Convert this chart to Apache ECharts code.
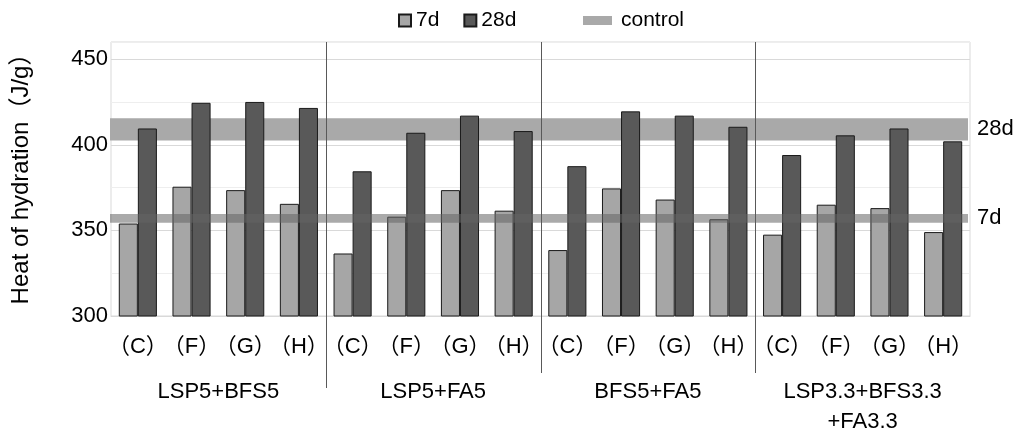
<!DOCTYPE html>
<html>
<head>
<meta charset="utf-8">
<script src="https://cdn.jsdelivr.net/npm/echarts@6/dist/echarts.min.js"></script>
<style>
html,body{margin:0;padding:0;background:#fff;}
#chart{width:1018px;height:433px;}
</style>
</head>
<body>
<div id="chart"></div>
<script>
// ---- data ----
const categories = ['（C）','（F）','（G）','（H）','（C）','（F）','（G）','（H）','（C）','（F）','（G）','（H）','（C）','（F）','（G）','（H）'];
const groups = ['LSP5+BFS5','LSP5+FA5','BFS5+FA5','LSP3.3+BFS3.3\n+FA3.3'];
const values7d = [354, 375.5, 373.5, 365.5, 336.5, 358, 373.5, 361.5, 338.5, 374.5, 368, 356.5, 347.5, 365, 363, 349];
const values28d = [409.5, 424.5, 425, 421.5, 384.5, 407, 417, 408, 387.5, 419.5, 417, 410.5, 394, 405.5, 409.5, 402];
const controlLabels = ['28d','7d'];
const controlLow = [402.5, 354.5];
const controlHigh = [415.5, 359.5];
const separatorIndex = [4, 8, 12];
const yTicks = [300, 350, 400, 450];

const FONT = '"Liberation Sans", "Noto Sans CJK JP", sans-serif';

function bandRender(label, fillColor) {
  return function (params, api) {
    const cs = params.coordSys;
    const top = api.coord([0, api.value(2)])[1];
    const bot = api.coord([0, api.value(1)])[1];
    return {
      type: 'group',
      children: [
        { type: 'rect', shape: { x: cs.x - 1, y: top, width: cs.width - 1, height: bot - top },
          style: { fill: fillColor } },
        { type: 'text', style: { text: label, x: cs.x + cs.width + 7, y: (top + bot) / 2,
          verticalAlign: 'middle', align: 'left', font: '22px ' + FONT, fill: '#000' } }
      ]
    };
  };
}

const chart = echarts.init(document.getElementById('chart'), null, { renderer: 'canvas' });
chart.setOption({
  animation: false,
  backgroundColor: '#fff',
  grid: { left: 111, right: 48, top: 42, bottom: 117, show: true, borderColor: '#d9d9d9', borderWidth: 1,
    containLabel: false, outerBoundsMode: 'none' },
  legend: [
    { data: ['7d', '28d'], left: 393, top: 5, itemWidth: 12, itemHeight: 12, itemGap: 24, icon: 'rect',
      textStyle: { fontSize: 21, fontFamily: FONT, color: '#000' } },
    { data: [{ name: 'control', icon: 'rect', itemStyle: { color: '#a9a9a9', borderWidth: 0 } }],
      left: 578, top: 5, itemWidth: 29, itemHeight: 9,
      textStyle: { fontSize: 21, fontFamily: FONT, color: '#000', padding: [0, 0, 0, 4] } }
  ],
  xAxis: [
    { type: 'category', data: categories, position: 'bottom',
      axisLine: { show: true, lineStyle: { color: '#d9d9d9' } },
      axisTick: { show: false },
      axisLabel: { interval: 0, margin: 20, fontSize: 22, fontFamily: FONT, color: '#000' } },
    { type: 'category', data: groups, position: 'bottom', gridIndex: 0,
      axisLine: { show: false }, axisTick: { show: false }, splitLine: { show: false },
      axisLabel: { interval: 0, margin: 61, fontSize: 22, lineHeight: 30, fontFamily: FONT, color: '#000' } }
  ],
  yAxis: {
    type: 'value', min: 300, max: 460, interval: 25,
    name: 'Heat of hydration（J/g）', nameLocation: 'middle', nameGap: 78, nameRotate: 90,
    nameTextStyle: { fontSize: 24, fontFamily: FONT, color: '#000', padding: [0, 0, 0, 12] },
    axisLine: { show: false }, axisTick: { show: false },
    axisLabel: { margin: 3, fontSize: 22, fontFamily: FONT, color: '#000',
      formatter: function (v) { return yTicks.indexOf(v) >= 0 ? String(v) : ''; } },
    splitLine: { show: true, lineStyle: { color: ['#d9d9d9', '#eeeeee'], width: 1 } }
  },
  series: [
    { name: 'control', type: 'custom', z: 1, silent: true, xAxisIndex: 0,
      itemStyle: { color: '#a9a9a9' },
      renderItem: bandRender(controlLabels[0], '#a9a9a9'),
      data: [[0, controlLow[0], controlHigh[0]]] },
    { name: '7d', type: 'bar', z: 2, xAxisIndex: 0, data: values7d, barGap: '0%', barCategoryGap: '29%',
      itemStyle: { color: '#a6a6a6', borderColor: '#1a1a1a', borderWidth: 1 } },
    { name: '28d', type: 'bar', z: 2, xAxisIndex: 0, data: values28d, barGap: '0%', barCategoryGap: '29%',
      itemStyle: { color: '#595959', borderColor: '#1a1a1a', borderWidth: 1 } },
    { name: 'control', type: 'custom', z: 3, silent: true, xAxisIndex: 0,
      itemStyle: { color: '#a9a9a9' },
      renderItem: bandRender(controlLabels[1], 'rgba(100,100,100,0.55)'),
      data: [[0, controlLow[1], controlHigh[1]]] },
    { name: 'sep', type: 'custom', z: 4, silent: true, xAxisIndex: 0, clip: false,
      renderItem: function (params, api) {
        const cs = params.coordSys;
        const i = api.value(0);
        const x = Math.round((api.coord([i - 1, 300])[0] + api.coord([i, 300])[0]) / 2) + 0.5;
        const extra = params.dataIndex === 0 ? 72 : 57;
        return { type: 'line', shape: { x1: x, y1: cs.y, x2: x, y2: cs.y + cs.height + extra },
          style: { stroke: '#595959', lineWidth: 1 } };
      },
      data: separatorIndex.map(function (v) { return [v, 300]; }) }
  ]
});
</script>
</body>
</html>
